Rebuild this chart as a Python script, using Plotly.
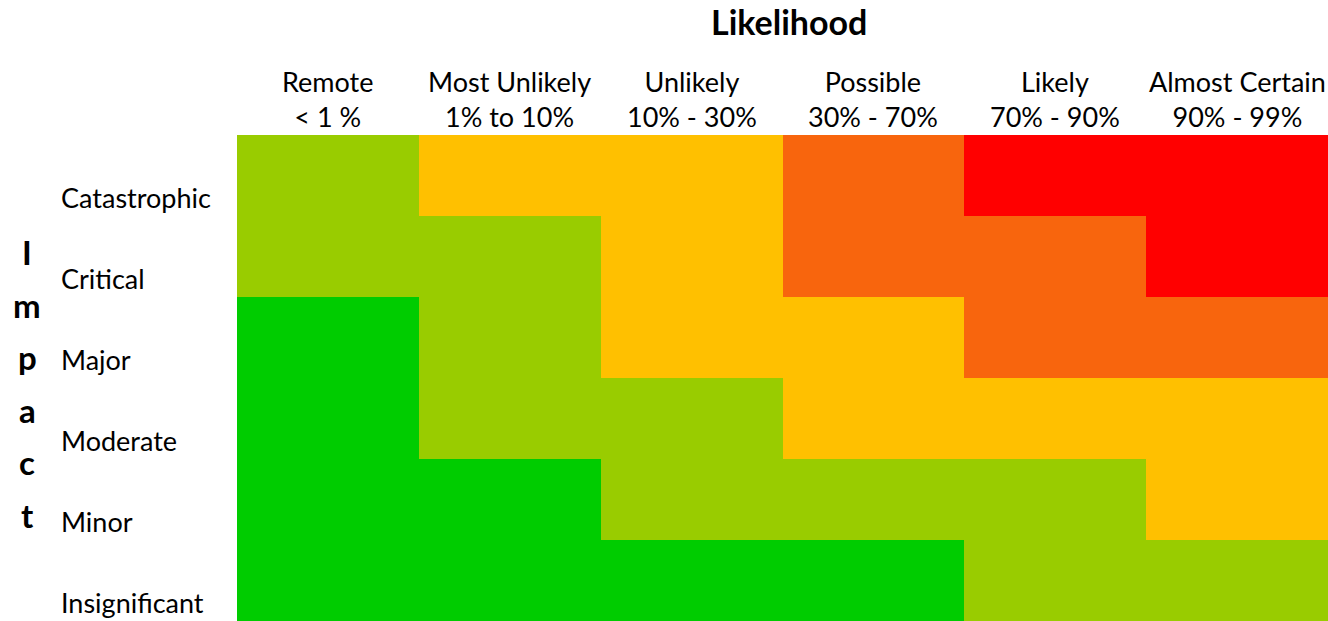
import plotly.graph_objects as go

# ---- data ----
likelihood = ["Remote", "Most Unlikely", "Unlikely", "Possible", "Likely", "Almost Certain"]
likelihood_ranges = ["&lt; 1 %", "1% to 10%", "10% - 30%", "30% - 70%", "70% - 90%", "90% - 99%"]
impact = ["Catastrophic", "Critical", "Major", "Moderate", "Minor", "Insignificant"]
risk_level = [
    [2, 3, 3, 4, 5, 5],
    [2, 2, 3, 4, 4, 5],
    [1, 2, 3, 3, 4, 4],
    [1, 2, 2, 3, 3, 3],
    [1, 1, 2, 2, 2, 3],
    [1, 1, 1, 1, 2, 2],
]
level_colors = ["#00CC00", "#99CC00", "#FFC000", "#F8650D", "#FF0000"]
x_title = "Likelihood"
y_title = "Impact"

W, H = 1328, 621
FONT = "Lato"

def px_x(px):
    return px / W

def px_y(py):
    return 1 - py / H

# discrete colorscale
n = len(level_colors)
cs = []
for i, c in enumerate(level_colors):
    cs.append([i / n, c])
    cs.append([(i + 1) / n, c])

fig = go.Figure(
    go.Heatmap(
        z=risk_level,
        x=likelihood,
        y=impact,
        colorscale=cs,
        zmin=0.5,
        zmax=n + 0.5,
        showscale=False,
        xgap=0,
        ygap=0,
        hovertemplate="%{y} / %{x}<extra></extra>",
    )
)

annotations = []
# column headers
for name, rng in zip(likelihood, likelihood_ranges):
    annotations.append(dict(
        x=name, xref="x", y=px_y(99), yref="paper",
        text=f"{name}<br>{rng}", showarrow=False,
        xanchor="center", yanchor="middle",
        font=dict(family=FONT, size=27, color="#000000"),
    ))
# row labels
for name in impact:
    annotations.append(dict(
        x=px_x(59), xref="paper", y=name, yref="y", yshift=-22,
        text=name, showarrow=False, xanchor="left", yanchor="middle",
        font=dict(family=FONT, size=27, color="#000000"),
    ))
# title
annotations.append(dict(
    x=px_x(789), xref="paper", y=px_y(21), yref="paper",
    text=f"<b>{x_title}</b>", showarrow=False, xanchor="center", yanchor="middle",
    font=dict(family=FONT, size=34, color="#000000"),
))
# vertical stacked Impact letters
for i, ch in enumerate(y_title):
    annotations.append(dict(
        x=px_x(27), xref="paper", y=px_y(252 + 52.6 * i), yref="paper",
        text=f"<b>{ch}</b>", showarrow=False, xanchor="center", yanchor="middle",
        font=dict(family=FONT, size=33, color="#000000"),
    ))

fig.update_layout(
    width=W, height=H,
    margin=dict(l=0, r=0, t=0, b=0),
    paper_bgcolor="white", plot_bgcolor="white",
    xaxis=dict(domain=[px_x(237), 1], visible=False, fixedrange=True),
    yaxis=dict(domain=[0, px_y(135)], visible=False, autorange="reversed", fixedrange=True),
    annotations=annotations,
    font=dict(family=FONT),
)

fig.write_html("out.html")
